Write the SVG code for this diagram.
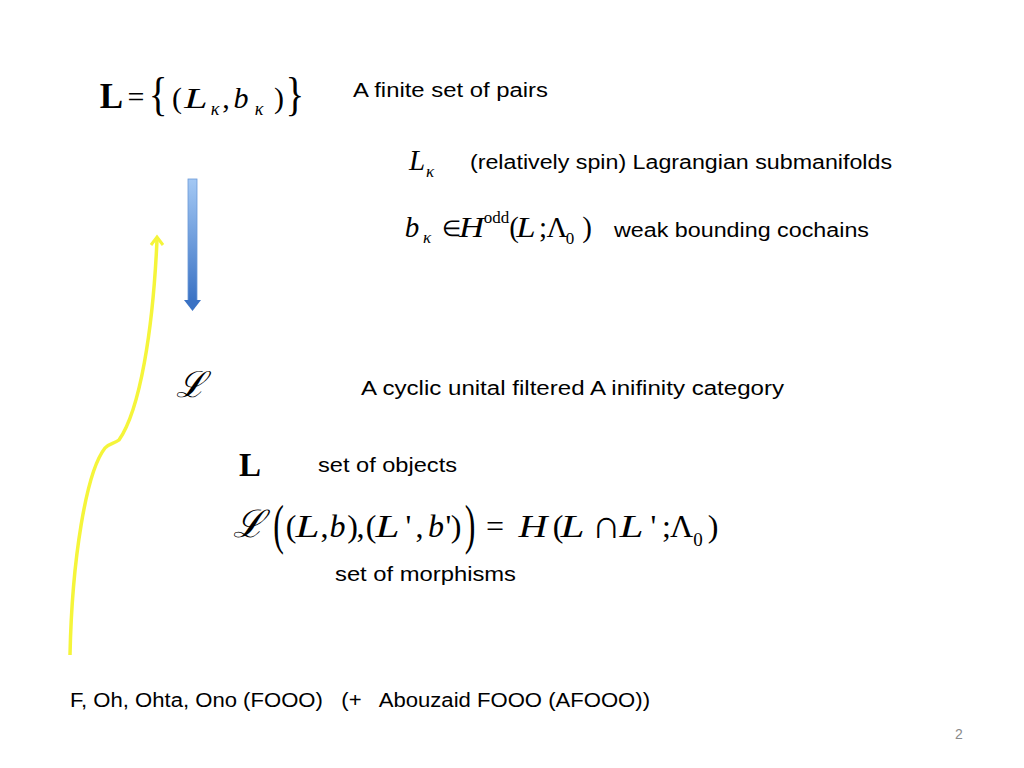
<svg xmlns="http://www.w3.org/2000/svg" width="1024" height="768" viewBox="0 0 1024 768">
<style>
.t{font-family:"Liberation Sans",Arial,sans-serif;font-size:20px;fill:#000}
.m{font-family:"Liberation Serif","Times New Roman",serif;fill:#000;text-anchor:middle}
.i{font-style:italic}
.b{font-weight:bold}
.s{font-family:"DejaVu Serif",serif;font-style:italic;text-anchor:middle}
.l1{font-size:30px}
.l2{font-size:29px}
.l6{font-size:32px}
</style>
<defs>
<linearGradient id="bl" x1="0" y1="0" x2="0" y2="1">
<stop offset="0" stop-color="#a3c8f4"/>
<stop offset="1" stop-color="#3a72c4"/>
</linearGradient>
</defs>
<rect width="1024" height="768" fill="#fff"/>

<g id="connectors">
<g id="yellow-arrow">
<path d="M70,655 C72,560 86,472 105,448 C109,443 114,444 119,440 C140,410 153,330 157,240" fill="none" stroke="#f5f53a" stroke-width="3.5"/>
<path d="M151,245 L157,237 L163,245" fill="none" stroke="#f5f53a" stroke-width="3"/>
</g>
<g id="blue-arrow">
<rect x="188" y="179" width="9" height="122" fill="url(#bl)" stroke="#6b9ad8" stroke-width="0.8"/>
<path d="M184,300 L201,300 L192.5,311 Z" fill="#3a72c4"/>
</g>
</g>

<g id="pairs">
<text class="m b" x="111.5" y="108" font-size="35">L</text>
<text class="m l1" x="136" y="107">=</text>
<text class="m l1" x="158" y="108" transform="matrix(1.3 0 0 1.55 -47.4 -57.8)">{</text>
<text class="m l1" x="177" y="108">(</text>
<text class="m i l1" x="196" y="108" transform="matrix(1.4 0 0 1 -78.4 0)">L</text>
<text class="m i" x="215" y="115" font-size="18">κ</text>
<text class="m l1" x="226" y="108">,</text>
<text class="m i l1" x="241" y="108">b</text>
<text class="m i" x="259" y="115" font-size="18">κ</text>
<text class="m l1" x="279" y="108">)</text>
<text class="m l1" x="295" y="108" transform="matrix(1.3 0 0 1.55 -88.5 -57.8)">}</text>
<text class="t" x="353" y="97" textLength="195" lengthAdjust="spacingAndGlyphs">A finite set of pairs</text>
</g>

<g id="lagrangians">
<text class="m i l2" x="417" y="170">L</text>
<text class="m i" x="430" y="177" font-size="17">κ</text>
<text class="t" x="470" y="169" textLength="422" lengthAdjust="spacingAndGlyphs">(relatively spin) Lagrangian submanifolds</text>
</g>

<g id="cochains">
<text class="m i l2" x="412" y="237">b</text>
<text class="m i" x="427" y="243" font-size="17">κ</text>
<text class="m" x="451.5" y="236" font-size="22">∈</text>
<text class="m i l2" x="471.5" y="237" transform="matrix(1.2 0 0 1 -94.3 0)">H</text>
<text class="m" x="496.5" y="223" font-size="17">odd</text>
<text class="m l2" x="514" y="237">(</text>
<text class="m i l2" x="526" y="237" transform="matrix(1.2 0 0 1 -105.2 0)">L</text>
<text class="m l2" x="543" y="237">;</text>
<text class="m l2" x="557" y="237">Λ</text>
<text class="m" x="570" y="244" font-size="17">0</text>
<text class="m l2" x="587" y="237">)</text>
<text class="t" x="614" y="237" textLength="255" lengthAdjust="spacingAndGlyphs">weak bounding cochains</text>
</g>

<g id="category">
<text class="s" x="191" y="397" font-size="36">ℒ</text>
<text class="t" x="361" y="395" textLength="423" lengthAdjust="spacingAndGlyphs">A cyclic unital filtered A inifinity category</text>
</g>

<g id="objects">
<text class="m b" x="250" y="476" font-size="33">L</text>
<text class="t" x="318" y="472" textLength="139" lengthAdjust="spacingAndGlyphs">set of objects</text>
</g>

<g id="morphisms">
<text class="s" x="248.5" y="537" font-size="38">ℒ</text>
<text class="m l6" x="278.5" y="537" transform="matrix(1 0 0 1.7 0 -370.3)">(</text>
<text class="m l6" x="291" y="537">(</text>
<text class="m i l6" x="307.5" y="537" transform="matrix(1.35 0 0 1 -107.6 0)">L</text>
<text class="m l6" x="324.5" y="537">,</text>
<text class="m i l6" x="337.5" y="537">b</text>
<text class="m l6" x="352.5" y="537">)</text>
<text class="m l6" x="360.5" y="537">,</text>
<text class="m l6" x="371" y="537">(</text>
<text class="m i l6" x="387.5" y="537" transform="matrix(1.35 0 0 1 -135.6 0)">L</text>
<text class="m l6" x="408.5" y="537">'</text>
<text class="m l6" x="419.5" y="537">,</text>
<text class="m i l6" x="436" y="537">b</text>
<text class="m l6" x="448.5" y="537">'</text>
<text class="m l6" x="456" y="537">)</text>
<text class="m l6" x="470" y="537" transform="matrix(1 0 0 1.7 0 -370.3)">)</text>
<text class="m l6" x="495" y="537">=</text>
<text class="m i l6" x="533" y="537" transform="matrix(1.25 0 0 1 -133.3 0)">H</text>
<text class="m l6" x="558" y="537">(</text>
<text class="m i l6" x="572.5" y="537" transform="matrix(1.35 0 0 1 -200.4 0)">L</text>
<text class="m" x="606" y="538" font-size="40">∩</text>
<text class="m i l6" x="631.5" y="537" transform="matrix(1.35 0 0 1 -221 0)">L</text>
<text class="m l6" x="653.5" y="537">'</text>
<text class="m l6" x="666.5" y="537">;</text>
<text class="m l6" x="681.5" y="537">Λ</text>
<text class="m" x="698" y="546" font-size="19">0</text>
<text class="m l6" x="713" y="537">)</text>
<text class="t" x="335" y="581" textLength="181" lengthAdjust="spacingAndGlyphs">set of morphisms</text>
</g>

<g id="authors">
<text class="t" x="70" y="707" textLength="580" lengthAdjust="spacingAndGlyphs" xml:space="preserve">F, Oh, Ohta, Ono (FOOO)   (+   Abouzaid FOOO (AFOOO))</text>
</g>
<text x="955" y="739" style="font-family:'Liberation Sans',Arial,sans-serif;font-size:14px;fill:#8a8a8a">2</text>
</svg>
